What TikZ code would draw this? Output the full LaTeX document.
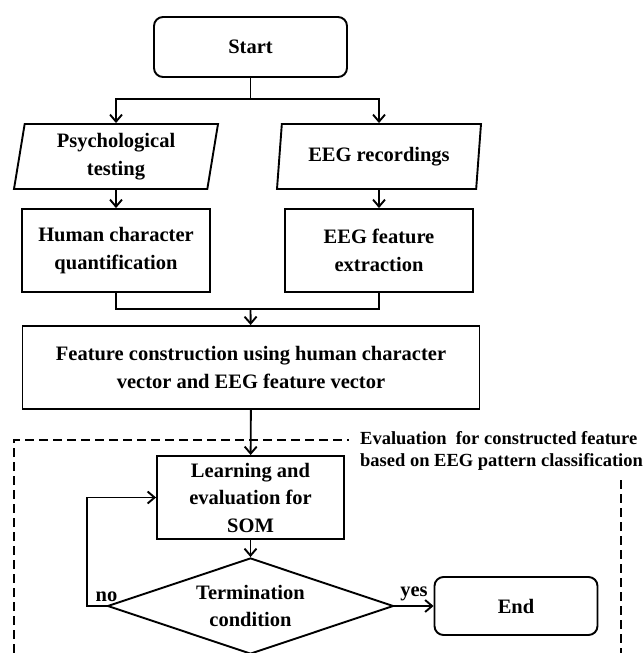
\documentclass[tikz,border=0pt]{standalone}
\usepackage{fontspec}
\setmainfont{Liberation Serif}
\usetikzlibrary{shapes.geometric,arrows.meta}

\tikzset{
    flowline/.style={line width=1.9pt},
    process/.style={draw, line width=1.9pt, rectangle, align=center, inner sep=2pt,
        font=\fontsize{20.5}{27.5}\selectfont\bfseries},
    terminal/.style={process, rounded corners=9pt},
    iobox/.style={process, trapezium, trapezium left angle=78, trapezium right angle=102,
        trapezium stretches body},
    decision/.style={process, diamond, aspect=3, inner sep=0pt},
    framebox/.style={line width=1.9pt, dash pattern=on 9pt off 5pt},
    edgelabel/.style={font=\fontsize{20.5}{27.5}\selectfont\bfseries},
    framelabel/.style={font=\fontsize{18.5}{22.5}\selectfont\bfseries, align=left, inner sep=0pt}
}

\begin{document}
\begin{tikzpicture}[x=1pt, y=-1pt, >={Straight Barb[length=7pt,width=12pt]}]

        \useasboundingbox (0,0) rectangle (644,653);
        \clip (0,0) rectangle (644,653);

        % Defining the steps of the flow
        \node[terminal, minimum width=193pt, minimum height=60pt] (start) at (250.5,47) {Start};

        \node[iobox, minimum width=204pt, minimum height=65pt] (psych) at (116,156.5) {Psychological\\testing};
        \node[iobox, minimum width=204pt, minimum height=65pt] (eegrec) at (379,156.5) {EEG recordings};

        \node[process, minimum width=188pt, minimum height=83pt] (human) at (116,250.5) {Human character\\quantification};
        \node[process, minimum width=188pt, minimum height=83pt] (eegfeat) at (379,250.5) {EEG feature\\extraction};

        \node[process, minimum width=457pt, minimum height=83pt] (feature) at (251,367.5)
            {Feature construction using human character\\vector and EEG feature vector};

        \node[process, minimum width=187pt, minimum height=83pt] (learning) at (250.5,497.5) {Learning and\\evaluation for\\SOM};

        \node[decision, minimum width=286pt, minimum height=96pt] (term) at (250.5,606) {Termination\\condition};

        \node[terminal, minimum width=163pt, minimum height=58pt] (finish) at (516,606) {End};

        \coordinate (fork) at (250.5,99);
        \coordinate (join) at (250.5,309);

        % Evaluation frame
        \draw[framebox] (14,653) -- (14,440) -- (349,440);
        \draw[framebox] (621,480) -- (621,653);
        \node[framelabel, anchor=west] (evallbl) at (360,451)
            {Evaluation\ \ for constructed feature\\based on EEG pattern classification};

        % Defining the links between the steps
        \draw[flowline] (start) -- (fork);
        \draw[flowline,->] (fork) -| (psych);
        \draw[flowline,->] (fork) -| (eegrec);
        \draw[flowline,->] (psych) -- (human);
        \draw[flowline,->] (eegrec) -- (eegfeat);
        \draw[flowline] (human) |- (join) -| (eegfeat);
        \draw[flowline,->] (join) -- (feature);
        \draw[flowline,->] (feature) -- (learning);
        \draw[flowline,->] (learning) -- (term);

        % Branches of the decision
        \draw[flowline,->] (term.west) -- ++(-19.5,0) |- (learning.west);
        \node[edgelabel, above=1pt] (nolbl) at (term.west) {no};
        \draw[flowline,->] (term) -- node[edgelabel, above=1pt] (yeslbl) {yes} (finish);

    \end{tikzpicture}
\end{document}
